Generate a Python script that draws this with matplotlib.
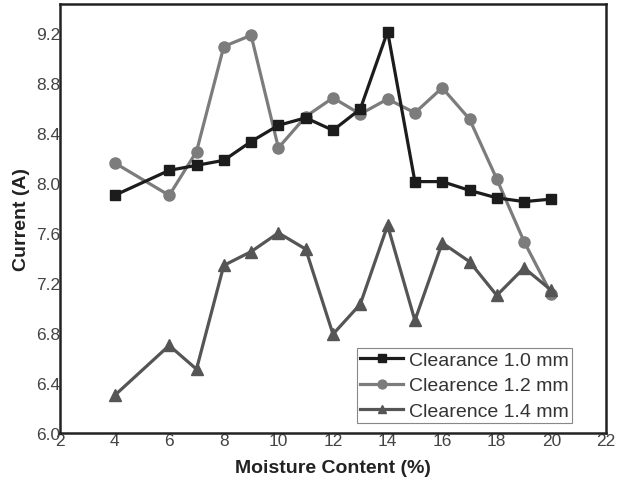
import matplotlib
matplotlib.use('Agg')
import matplotlib.pyplot as plt

plt.rcParams['font.family'] = ['Liberation Sans', 'DejaVu Sans']

# moisture content (%) and measured current (A) for three clearances
moisture = [4, 6, 7, 8, 9, 10, 11, 12, 13, 14, 15, 16, 17, 18, 19, 20]
current_10 = [7.90, 8.10, 8.14, 8.18, 8.33, 8.46, 8.52, 8.42, 8.59, 9.21,
              8.01, 8.01, 7.94, 7.88, 7.85, 7.87]
current_12 = [8.16, 7.90, 8.25, 9.09, 9.18, 8.28, 8.53, 8.68, 8.55, 8.67,
              8.56, 8.76, 8.51, 8.03, 7.53, 7.11]
current_14 = [6.30, 6.70, 6.51, 7.34, 7.45, 7.60, 7.47, 6.79, 7.03, 7.66,
              6.90, 7.52, 7.37, 7.10, 7.32, 7.14]

labels = ['Clearance 1.0 mm', 'Clearence 1.2 mm', 'Clearence 1.4 mm']
x_ticks = [2, 4, 6, 8, 10, 12, 14, 16, 18, 20, 22]
y_ticks = [6.0, 6.4, 6.8, 7.2, 7.6, 8.0, 8.4, 8.8, 9.2]

fig = plt.figure(figsize=(6.19, 4.85), dpi=100)
ax = fig.add_axes([60 / 619, 51 / 485, 546 / 619, 429 / 485])

ax.plot(moisture, current_10, color='#1c1c1c', marker='s', markersize=7,
        linewidth=2.3, label=labels[0], zorder=3)
ax.plot(moisture, current_12, color='#7c7c7c', marker='o', markersize=8,
        linewidth=2.3, label=labels[1], zorder=2)
ax.plot(moisture, current_14, color='#555555', marker='^', markersize=8,
        linewidth=2.3, label=labels[2], zorder=2)

ax.set_xlim(2, 22)
ax.set_ylim(6.0, 9.43)
ax.set_xticks(x_ticks)
ax.set_yticks(y_ticks)
ax.set_xticklabels([str(t) for t in x_ticks])
ax.set_yticklabels([f'{t:.1f}' for t in y_ticks])
ax.tick_params(length=0, pad=0, labelsize=12.5, labelcolor='#444444')
for s in ax.spines.values():
    s.set_linewidth(1.8)
    s.set_color('#222222')

ax.set_xlabel('Moisture Content (%)', fontsize=14, fontweight='bold',
              color='#222222', labelpad=8)
ax.set_ylabel('Current (A)', fontsize=14, fontweight='bold',
              color='#222222', labelpad=4)

leg = ax.legend(loc='lower right', bbox_to_anchor=(0.944, 0.015),
                fontsize=14, handlelength=2.2, handletextpad=0.3,
                labelspacing=0.4, borderpad=0.15, borderaxespad=0.2,
                fancybox=False, framealpha=1, edgecolor='#888888',
                markerscale=0.8)
leg.get_frame().set_linewidth(0.8)
for t in leg.get_texts():
    t.set_color('#333333')

fig.savefig('out.png', dpi=100)
